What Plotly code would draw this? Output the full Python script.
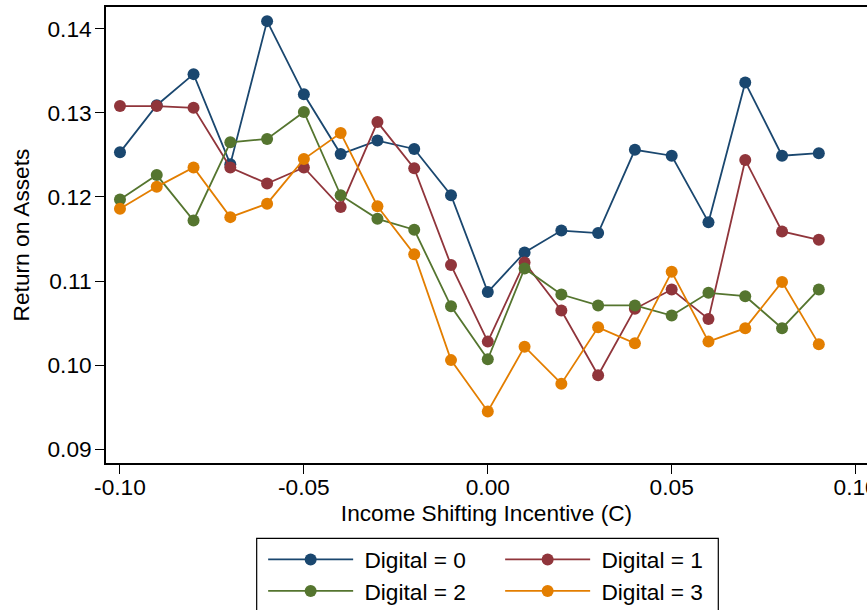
import plotly.graph_objects as go

x_vals = [-0.10, -0.09, -0.08, -0.07, -0.06, -0.05, -0.04, -0.03, -0.02, -0.01,
          0.00, 0.01, 0.02, 0.03, 0.04, 0.05, 0.06, 0.07, 0.08, 0.09]

digital0 = [0.1253, 0.1309, 0.1346, 0.1239, 0.1409, 0.1322, 0.1251, 0.1267, 0.1257, 0.1202,
            0.1087, 0.1134, 0.1160, 0.1157, 0.1256, 0.1249, 0.1170, 0.1336, 0.1249, 0.1252]
digital1 = [0.1308, 0.1308, 0.1306, 0.1235, 0.1216, 0.1235, 0.1188, 0.1289, 0.1234, 0.1119,
            0.1028, 0.1122, 0.1065, 0.0988, 0.1067, 0.1090, 0.1055, 0.1244, 0.1159, 0.1149]
digital2 = [0.1197, 0.1226, 0.1172, 0.1265, 0.1269, 0.1301, 0.1202, 0.1174, 0.1161, 0.1070,
            0.1007, 0.1115, 0.1084, 0.1071, 0.1071, 0.1059, 0.1086, 0.1082, 0.1044, 0.1090]
digital3 = [0.1186, 0.1212, 0.1235, 0.1176, 0.1192, 0.1245, 0.1276, 0.1189, 0.1132, 0.1006,
            0.0945, 0.1022, 0.0978, 0.1045, 0.1026, 0.1111, 0.1028, 0.1044, 0.1099, 0.1025]

series_names = ["Digital = 0", "Digital = 1", "Digital = 2", "Digital = 3"]
series_values = [digital0, digital1, digital2, digital3]
colors = ["#1a476f", "#90353b", "#55752f", "#e37e00"]
legend_ids = ["legend", "legend", "legend2", "legend2"]

x_tick_vals = [-0.10, -0.05, 0.00, 0.05, 0.10]
x_tick_text = ["-0.10", "-0.05", "0.00", "0.05", "0.10"]
y_tick_vals = [0.09, 0.10, 0.11, 0.12, 0.13, 0.14]
y_tick_text = ["0.09", "0.10", "0.11", "0.12", "0.13", "0.14"]

FONT = "Liberation Sans, Arial, sans-serif"
FS = 22.7

fig = go.Figure()
for name, vals, col, lg in zip(series_names, series_values, colors, legend_ids):
    fig.add_trace(go.Scatter(
        x=x_vals, y=vals, name="\u00a0" + name, mode="lines+markers",
        line=dict(color=col, width=1.8),
        marker=dict(color=col, size=12, line=dict(width=0)),
        legend=lg,
    ))

leg_common = dict(orientation="h", font=dict(family=FONT, size=FS, color="black"),
                  bgcolor="rgba(0,0,0,0)", borderwidth=0, itemwidth=85,
                  entrywidth=137, entrywidthmode="pixels",
                  xanchor="left", yanchor="middle", tracegroupgap=0)

fig.update_layout(
    width=867, height=610,
    margin=dict(l=106, r=0, t=7, b=147, autoexpand=False),
    paper_bgcolor="white", plot_bgcolor="white",
    font=dict(family=FONT, size=FS, color="black"),
    showlegend=True,
    legend=dict(x=0.2065, y=-0.212, **leg_common),
    legend2=dict(x=0.2065, y=-0.281, **leg_common),
    xaxis=dict(
        range=[-0.1038, 0.1031], tickvals=x_tick_vals, ticktext=x_tick_text,
        showline=True, linecolor="black", linewidth=1.6, mirror=True,
        ticks="outside", ticklen=9, tickwidth=1.4, tickcolor="black",
        showgrid=False, zeroline=False, ticklabeloverflow="allow",
        ticklabelstandoff=-6,
        tickfont=dict(family=FONT, size=FS),
        title=dict(text="Income Shifting Incentive (C)", font=dict(family=FONT, size=FS), standoff=1),
    ),
    yaxis=dict(
        range=[0.08837, 0.14258], tickvals=y_tick_vals, ticktext=y_tick_text,
        showline=True, linecolor="black", linewidth=1.6, mirror=False,
        ticks="outside", ticklen=9, tickwidth=1.4, tickcolor="black",
        showgrid=False, zeroline=False,
        ticklabelstandoff=-1,
        tickfont=dict(family=FONT, size=FS),
        title=dict(text="Return on Assets", font=dict(family=FONT, size=FS), standoff=12),
    ),
    shapes=[dict(type="rect", xref="paper", yref="paper",
                 x0=0.198, x1=0.8046, y0=-0.34, y1=-0.1651,
                 line=dict(color="black", width=1.2), fillcolor="rgba(0,0,0,0)")],
)

fig.write_html("out.html", config={"displayModeBar": False},
               post_script="document.body.style.margin='0px';")
